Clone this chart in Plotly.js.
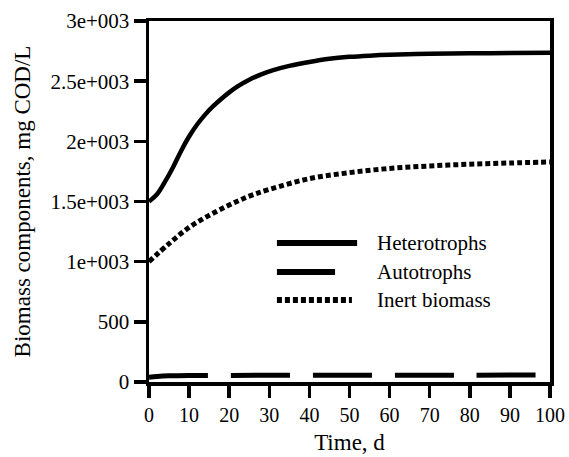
<!DOCTYPE html>
<html>
<head>
<meta charset="utf-8">
<script src="https://cdn.plot.ly/plotly-3.0.1.min.js"></script>
<style>html,body{margin:0;padding:0;background:#fff;}#chart{width:569px;height:457px;}</style>
</head>
<body>
<div id="chart"></div>
<script>
// Time (d)
var timeHet = [0, 2, 4, 6, 8, 10, 12, 14, 16, 18, 20, 22, 25, 28, 31, 35, 40, 45, 50, 55, 60, 70, 80, 90, 100];
var heterotrophs = [1500, 1560, 1665, 1785, 1920, 2040, 2140, 2222, 2292, 2352, 2407, 2455, 2512, 2557, 2592, 2627, 2660, 2686, 2702, 2712, 2719, 2727, 2731, 2734, 2736];

var timeAut = [0, 2, 5, 10, 20, 40, 60, 80, 100];
var autotrophs = [40, 46, 51, 54, 55, 56, 57, 57, 58];

var timeInert = [0, 5, 10, 15, 20, 25, 30, 40, 50, 60, 70, 80, 90, 100];
var inert = [1000, 1150, 1285, 1385, 1470, 1545, 1600, 1690, 1740, 1775, 1795, 1810, 1820, 1828];

var yTickVals = [0, 500, 1000, 1500, 2000, 2500, 3000];
var yTickText = ["0", "500", "1e+003", "1.5e+003", "2e+003", "2.5e+003", "3e+003"];
var xTickVals = [0, 10, 20, 30, 40, 50, 60, 70, 80, 90, 100];

var seriesNames = ["Heterotrophs", "Autotrophs", "Inert biomass"];

var serif = "Liberation Serif, Times New Roman, serif";

var traces = [
  {x: timeHet, y: heterotrophs, name: seriesNames[0], mode: "lines", line: {color: "#000", width: 4.5, shape: "spline"}},
  {x: timeAut, y: autotrophs, name: seriesNames[1], mode: "lines", line: {color: "#000", width: 5, dash: "59px,23px", shape: "spline"}},
  {x: timeInert, y: inert, name: seriesNames[2], mode: "lines", line: {color: "#000", width: 5, dash: "5px,3px", shape: "spline"}}
];

var legY = [0.385, 0.305, 0.227];
var legX1 = [0.519, 0.464, 0.506];
var legDash = ["solid", "solid", "5px,3px"];
var shapes = [], annotations = [];
for (var i = 0; i < 3; i++) {
  shapes.push({type: "line", xref: "paper", yref: "paper", x0: 0.319, x1: legX1[i], y0: legY[i], y1: legY[i],
    line: {color: "#000", width: 6, dash: legDash[i]}});
  annotations.push({xref: "paper", yref: "paper", x: 0.564, y: legY[i], xanchor: "left", yanchor: "middle",
    text: seriesNames[i], showarrow: false, font: {family: serif, size: 21, color: "#000"}});
}

var layout = {
  width: 569, height: 457,
  margin: {l: 149, r: 19, t: 21, b: 75},
  paper_bgcolor: "#fff", plot_bgcolor: "#fff",
  showlegend: false,
  font: {family: serif, color: "#000"},
  xaxis: {
    range: [0, 100], tickvals: xTickVals, ticks: "outside", ticklen: 12, tickwidth: 3.5, tickcolor: "#000",
    showline: true, linewidth: 3.5, linecolor: "#000", mirror: true, showgrid: false, zeroline: false,
    tickfont: {family: serif, size: 20, color: "#000"},
    title: {text: "Time, d", font: {family: serif, size: 23, color: "#000"}, standoff: 10}
  },
  yaxis: {
    range: [0, 3000], tickvals: yTickVals, ticktext: yTickText, ticks: "outside", ticklen: 12, tickwidth: 3.5, tickcolor: "#000",
    showline: true, linewidth: 3.5, linecolor: "#000", mirror: true, showgrid: false, zeroline: false,
    tickfont: {family: serif, size: 21, color: "#000"},
    title: {text: "Biomass components, mg COD/L", font: {family: serif, size: 23, color: "#000"}, standoff: 14}
  },
  shapes: shapes,
  annotations: annotations
};

Plotly.newPlot("chart", traces, layout, {staticPlot: true, displayModeBar: false});
</script>
</body>
</html>
